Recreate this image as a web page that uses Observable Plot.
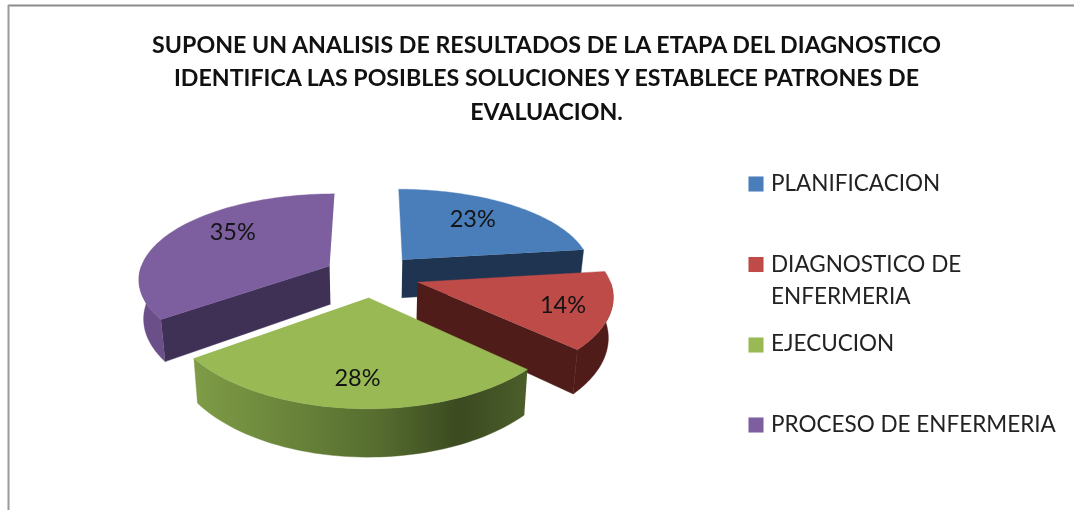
<!DOCTYPE html>
<html>
<head>
<meta charset="utf-8">
<script src="https://cdn.jsdelivr.net/npm/d3@7"></script>
<script src="https://cdn.jsdelivr.net/npm/@observablehq/plot@0.6"></script>
<style>html,body{margin:0;padding:0;background:#fff}svg{display:block}</style>
</head>
<body>
<div id="chart"></div>
<script>
const categories = ["PLANIFICACION", "DIAGNOSTICO DE ENFERMERIA", "EJECUCION", "PROCESO DE ENFERMERIA"];
const percents = [23, 14, 28, 35];
const topColors = ["#4a7ebb", "#be4b48", "#98b954", "#7d5fa0"];
const wallColors = ["#1f3450", "#4f1c1a", "url(#greenWall)", "#6a4f88"];
const cutColors = ["#1f3450", "#4f1c1a", "#5f7a35", "#3f3055"];
const titleLines = [
  "SUPONE UN ANALISIS DE RESULTADOS DE LA ETAPA DEL DIAGNOSTICO",
  "IDENTIFICA LAS POSIBLES SOLUCIONES Y ESTABLECE PATRONES DE",
  "EVALUACION."
];
const legendLines = [
  ["PLANIFICACION"],
  ["DIAGNOSTICO DE", "ENFERMERIA"],
  ["EJECUCION"],
  ["PROCESO DE ENFERMERIA"]
];

// Layout of the tilted pie (perspective view of a unit disc)
const W = 1074, H = 510, FONT = "Lato, 'Open Sans', sans-serif";
const cx = 371, cy = 275, rx = 191, ry = 86, perspX = 0.135, perspY = 0.155, depth = 39, explode = 0.25, shrink = 0.02;
const project = (X, Y, h = 0) => {
  const wx = 1 - perspX * Y, wy = 1 - perspY * Y;
  return {x: cx + rx * X / wx * (1 - h * shrink), y: cy + (ry * Y + h * depth) / wy};
};
const dir = (a) => [Math.sin(a), -Math.cos(a)];
const total = d3.sum(percents);
let acc = 0;
const slices = percents.map((v, i) => {
  const a0 = acc / total * 2 * Math.PI;
  acc += v;
  const a1 = acc / total * 2 * Math.PI;
  const [ex, ey] = dir((a0 + a1) / 2);
  return {i, v, a0, a1, ox: ex * explode, oy: ey * explode};
});
const point = (s, a, r, h = 0) => {
  const [dx, dy] = dir(a);
  return project(s.ox + dx * r, s.oy + dy * r, h);
};
const arcAngles = (a0, a1) => d3.range(0, 61).map((k) => a0 + (a1 - a0) * k / 60);
const topShape = (s) => [point(s, s.a0, 0), ...arcAngles(s.a0, s.a1).map((a) => point(s, a, 1))];
const cutShape = (s, a) => [point(s, a, 0), point(s, a, 1), point(s, a, 1, 1), point(s, a, 0, 1)];
const wallShape = (s) => {
  const lo = Math.max(s.a0, Math.PI / 2), hi = Math.min(s.a1, 3 * Math.PI / 2);
  if (lo >= hi) return null;
  const as = arcAngles(lo, hi);
  return [...as.map((a) => point(s, a, 1)), ...as.slice().reverse().map((a) => point(s, a, 1, 1))];
};
const poly = (pts, fill) => Plot.line(pts, {x: "x", y: "y", fill, stroke: fill, strokeWidth: 0.4});

const sliceMarks = (s) => {
  const out = [];
  const wall = wallShape(s);
  if (Math.sin(s.a1) > 0.001) out.push(poly(cutShape(s, s.a1), cutColors[s.i]));
  if (-Math.sin(s.a0) > 0.001) out.push(poly(cutShape(s, s.a0), cutColors[s.i]));
  if (wall) out.push(poly(wall, wallColors[s.i]));
  out.push(poly(topShape(s), topColors[s.i]));
  return out;
};

// Placement of the percentage labels relative to each slice's axis
const labelRadius = [0.66, 0.8, 0.76, 0.72];
const labelNudge = [[-4, -3], [-8, 1], [0, 0], [17, -8]];
const labels = slices.map((s) => {
  const p = point(s, (s.a0 + s.a1) / 2, labelRadius[s.i]);
  return {x: p.x + labelNudge[s.i][0], y: p.y + labelNudge[s.i][1], text: s.v + "%"};
});

const swatchY = [183.5, 264, 344.5, 424.5];
const lineStep = 32;
const legendRows = legendLines.flatMap((lines, i) =>
  lines.map((text, k) => ({text, y: swatchY[i] + k * lineStep - (i === 2 ? 1 : 0)})));
const legendSwatches = categories.map((name, i) => ({name, y: swatchY[i]}));
const titleRows = titleLines.map((text, i) => ({text, y: 45 + i * 33.5}));

const gradient = () => {
  const defs = d3.create("svg:defs");
  const g = defs.append("linearGradient").attr("id", "greenWall")
    .attr("gradientUnits", "userSpaceOnUse")
    .attr("x1", 190).attr("x2", 530).attr("y1", 0).attr("y2", 0);
  [[0, "#7f9c47"], [0.3, "#69843a"], [0.55, "#566d2f"], [0.79, "#3b4a20"], [1, "#4c5f2a"]]
    .forEach(([o, c]) => g.append("stop").attr("offset", o).attr("stop-color", c));
  return defs.node();
};

const order = [3, 0, 1, 2];
const chart = Plot.plot({
  width: W, height: H, margin: 0,
  x: {domain: [0, W], range: [0, W], axis: null},
  y: {domain: [0, H], range: [0, H], axis: null},
  color: {domain: categories, range: topColors},
  style: {background: "#fff", filter: "blur(0.45px)"},
  marks: [
    gradient,
    Plot.ruleY([5], {x1: 8, x2: W, stroke: "#8c8c8c", strokeWidth: 2}),
    Plot.ruleX([8], {y1: 5, y2: H, stroke: "#9a9a9a", strokeWidth: 2}),
    ...order.flatMap((i) => sliceMarks(slices[i])),
    Plot.text(labels, {x: "x", y: "y", text: "text", fontSize: 23.5, fontFamily: FONT, fill: "#141414"}),
    Plot.text(titleRows, {x: () => 546, y: "y", text: "text", fontSize: 23.2, fontWeight: 700, fontFamily: FONT, fill: "#111"}),
    Plot.dot(legendSwatches, {x: () => 755.5, y: "y", symbol: "square", r: 8.5, fill: "name"}),
    Plot.text(legendRows, {x: () => 770.5, y: "y", text: "text", textAnchor: "start", fontSize: 22.5, fontFamily: FONT, fill: "#222"})
  ]
});
document.getElementById("chart").append(chart);
</script>
</body>
</html>
